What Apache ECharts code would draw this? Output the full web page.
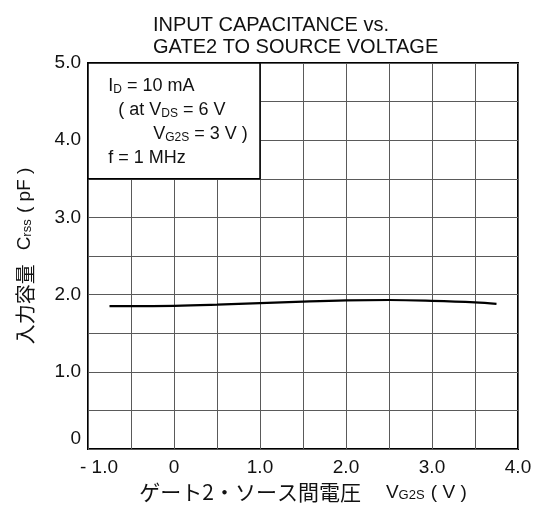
<!DOCTYPE html>
<html><head><meta charset="utf-8">
<script src="https://cdn.jsdelivr.net/npm/echarts@6/dist/echarts.min.js"></script>
<style>html,body{margin:0;padding:0;background:#fff}#c{width:537px;height:511px}</style>
</head><body><div id="c"></div>
<script>
// Data
const vg2s = [-0.75, -0.5, 0, 0.5, 1.0, 1.5, 2.0, 2.5, 3.0, 3.5, 3.75];
const crss = [1.85, 1.85, 1.855, 1.87, 1.89, 1.91, 1.925, 1.93, 1.92, 1.90, 1.88];
const xTicks = [-1, 0, 1, 2, 3, 4];
const xTickLabels = ['- 1.0', '0', '1.0', '2.0', '3.0', '4.0'];
const yTicks = [0, 1, 2, 3, 4, 5];
const yTickLabels = ['0', '1.0', '2.0', '3.0', '4.0', '5.0'];
const titleText = 'INPUT CAPACITANCE vs.\nGATE2 TO SOURCE VOLTAGE';
const conditionBox = [[-1, 5], [1, 3.5]];

const FONT = "'Liberation Sans', Arial, 'Noto Sans CJK JP', sans-serif";
const JFONT = "'Noto Sans CJK JP', sans-serif";
const chart = echarts.init(document.getElementById('c'), null, {renderer: 'canvas'});

const gridLine = {show: true, lineStyle: {color: '#5a5a5a', width: 1}};

chart.setOption({
  backgroundColor: '#fff',
  animation: false,
  title: {
    text: titleText,
    left: 148, top: 9,
    textStyle: {fontFamily: FONT, fontSize: 20, fontWeight: 'normal', color: '#111', lineHeight: 22}
  },
  grid: {left: 88, right: 19, top: 63, bottom: 62, show: true, borderColor: '#000', borderWidth: 2, backgroundColor: '#fff'},
  xAxis: {
    type: 'value', min: -1, max: 4, interval: 1,
    axisLine: {show: false}, axisTick: {show: false},
    splitLine: gridLine,
    minorTick: {show: false, splitNumber: 2},
    minorSplitLine: gridLine,
    axisLabel: {
      margin: 9, color: '#111', fontFamily: FONT, fontSize: 19,
      formatter: v => {
        const i = xTicks.indexOf(Math.round(v));
        const t = i >= 0 ? xTickLabels[i] : '';
        return i === 0 ? '{m|' + t + '}' : t;
      },
      rich: {m: {fontFamily: FONT, fontSize: 19, color: '#111', padding: [0, 0, 0, 22]}}
    },
    name: '{j|ゲート2・ソース間電圧}{g| }{l|V}{s|G2S}{l| ( V )}',
    nameLocation: 'middle', nameGap: 29,
    nameTextStyle: {
      fontFamily: FONT, fontSize: 19, color: '#111', verticalAlign: 'top',
      rich: {
        j: {fontFamily: JFONT, fontSize: 21, color: '#111'},
        g: {fontFamily: FONT, fontSize: 19, width: 25},
        l: {fontFamily: FONT, fontSize: 19, color: '#111'},
        s: {fontFamily: FONT, fontSize: 13, color: '#111', verticalAlign: 'bottom', padding: [0, 1, 1, 0]}
      }
    }
  },
  yAxis: {
    type: 'value', min: 0, max: 5, interval: 1,
    axisLine: {show: false}, axisTick: {show: false},
    splitLine: gridLine,
    minorTick: {show: false, splitNumber: 2},
    minorSplitLine: gridLine,
    axisLabel: {
      margin: 7, color: '#111', fontFamily: FONT, fontSize: 19,
      formatter: v => {
        const i = yTicks.indexOf(Math.round(v));
        const t = i >= 0 ? yTickLabels[i] : '';
        return i === 0 ? '{z|' + t + '}' : t;
      },
      rich: {z: {fontFamily: FONT, fontSize: 19, color: '#111', padding: [0, 0, 20, 0]}}
    },
    name: '{j|入力容量}{g| }{l|C}{s|rss}{l| ( pF )}',
    nameLocation: 'middle', nameGap: 53, nameRotate: 90,
    nameTextStyle: {
      fontFamily: FONT, fontSize: 19, color: '#111',
      rich: {
        j: {fontFamily: JFONT, fontSize: 20, color: '#111'},
        g: {fontFamily: FONT, fontSize: 19, width: 14},
        l: {fontFamily: FONT, fontSize: 19, color: '#111'},
        s: {fontFamily: FONT, fontSize: 13, color: '#111', verticalAlign: 'bottom', padding: [0, 1, 1, 0]}
      }
    }
  },
  series: [{
    type: 'line',
    data: vg2s.map((x, i) => [x, crss[i]]),
    smooth: 0.4,
    showSymbol: false,
    lineStyle: {color: '#000', width: 2.2},
    z: 5,
    markArea: {
      silent: true,
      itemStyle: {color: '#fff', borderColor: '#000', borderWidth: 1.5},
      label: {
        show: true, position: 'insideTopLeft', distance: 0,
        padding: [12, 0, 0, 21],
        fontFamily: FONT, fontSize: 18, color: '#111', lineHeight: 24,
        formatter: [
          '{t|I}{s|D}{t| = 10 mA}',
          '{t|  ( at V}{s|DS}{t| = 6 V}',
          '{t|         V}{s|G2S}{t| = 3 V )}',
          '{t|f = 1 MHz}'
        ].join('\n'),
        rich: {
          t: {fontFamily: FONT, fontSize: 18, color: '#111', lineHeight: 24},
          s: {fontFamily: FONT, fontSize: 12, color: '#111', lineHeight: 24, verticalAlign: 'bottom', padding: [0, 0, 3, 0]}
        }
      },
      data: [[{coord: conditionBox[0]}, {coord: conditionBox[1]}]]
    }
  }]
});
</script>
</body></html>
